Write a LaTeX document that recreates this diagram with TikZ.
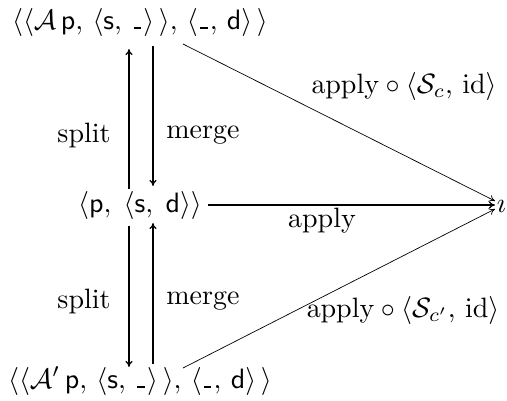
\documentclass[tikz,border=0pt]{standalone}
\usepackage{amsmath,amssymb}
\usetikzlibrary{arrows.meta}
\newcommand{\blank}{\mathord{\kern0.08em\rule[0pt]{0.27em}{0.075em}\kern0.08em}}
\begin{document}
\begin{tikzpicture}[x=1pt,y=-1pt,
  every node/.style={inner sep=0pt,scale=2.8},
  arr/.style={-{To[length=6pt,width=7pt]},line width=1.1pt},
  darr/.style={-{To[length=6pt,width=7pt]},line width=0.7pt}]
\useasboundingbox (0,0) rectangle (507,400);
\node (top) at (140,22) {$\langle\langle\mathcal{A}\,\mathsf{p},\,\langle\mathsf{s},\,\blank\rangle\,\rangle,\,\langle\blank,\,\mathsf{d}\rangle\,\rangle$};
\node (mid) at (140,205) {$\langle\mathsf{p},\;\langle\mathsf{s},\;\mathsf{d}\rangle\rangle$};
\node (bot) at (140,381) {$\langle\langle\mathcal{A}'\,\mathsf{p},\,\langle\mathsf{s},\,\blank\rangle\,\rangle,\,\langle\blank,\,\mathsf{d}\rangle\,\rangle$};
\node (t) at (501.5,206) {$\imath$};
\coordinate (tl1) at (129,49); \coordinate (ml1) at (129,189);
\coordinate (tr1) at (153,46); \coordinate (mr1) at (153,186);
\coordinate (ml2) at (129,226); \coordinate (bl2) at (129,367);
\coordinate (mr2) at (153,223); \coordinate (br2) at (153,364);
\draw[arr] (ml1) -- (tl1);
\draw[arr] (tr1) -- (mr1);
\draw[arr] (ml2) -- (bl2);
\draw[arr] (br2) -- (mr2);
\node (s1) at (84,135) {split};
\node (m1) at (203,135) {merge};
\node (s2) at (84,301) {split};
\node (m2) at (203,301) {merge};
\coordinate (hs) at (208,205);
\coordinate (he) at (495,205);
\draw[arr] (hs) -- (he);
\node (la) at (322,221) {apply};
\coordinate (d1s) at (183,44);
\coordinate (d1e) at (495,201);
\draw[darr] (d1s) -- (d1e);
\coordinate (d2s) at (183,368);
\coordinate (d2e) at (495,209);
\draw[darr] (d2s) -- (d2e);
\node (l1) at (404,86) {$\mathrm{apply}\circ\langle\mathcal{S}_{c},\,\mathrm{id}\rangle$};
\node (l2) at (403,310) {$\mathrm{apply}\circ\langle\mathcal{S}_{c'},\,\mathrm{id}\rangle$};
\end{tikzpicture}
\end{document}
